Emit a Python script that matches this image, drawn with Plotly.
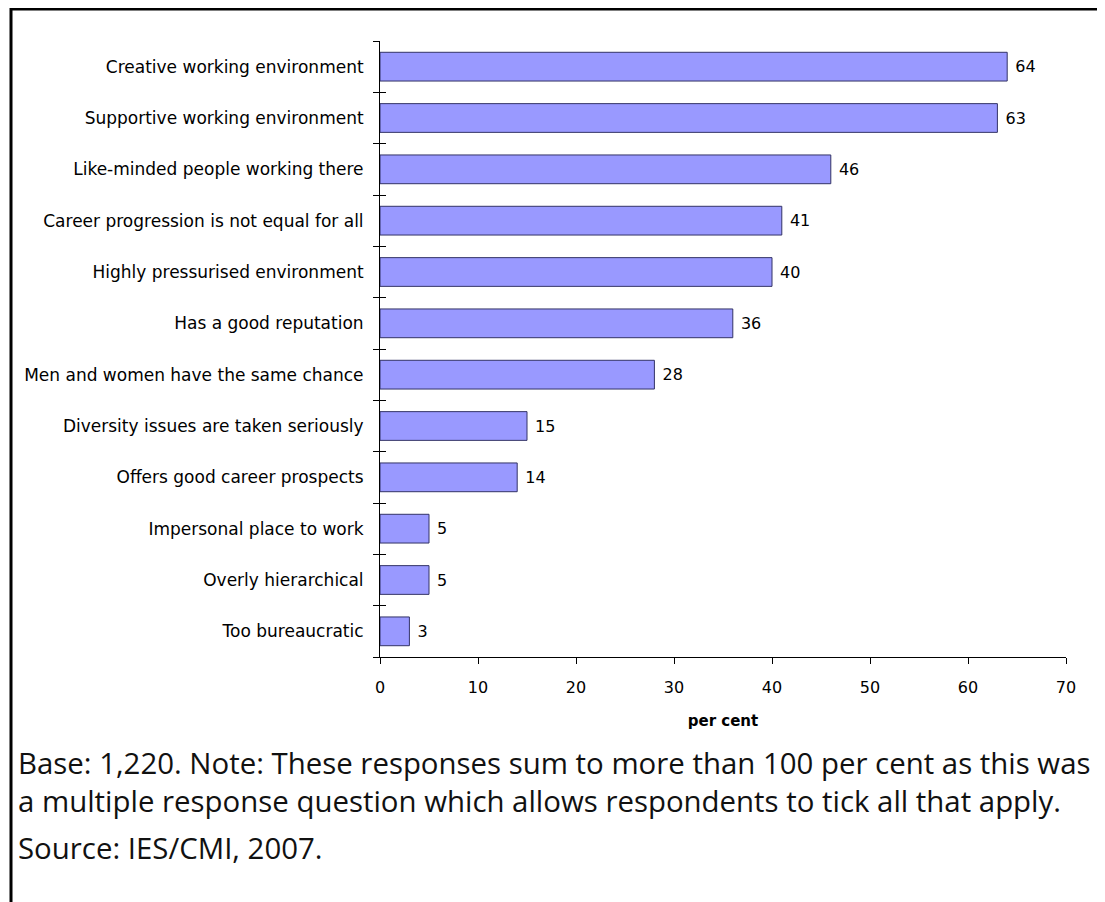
import plotly.graph_objects as go

categories = [
    "Creative working environment",
    "Supportive working environment",
    "Like-minded people working there",
    "Career progression is not equal for all",
    "Highly pressurised environment",
    "Has a good reputation",
    "Men and women have the same chance",
    "Diversity issues are taken seriously",
    "Offers good career prospects",
    "Impersonal place to work",
    "Overly hierarchical",
    "Too bureaucratic",
]
values = [64, 63, 46, 41, 40, 36, 28, 15, 14, 5, 5, 3]
x_ticks = [0, 10, 20, 30, 40, 50, 60, 70]
note_lines = [
    "Base: 1,220. Note: These responses sum to more than 100 per cent as this was",
    "a multiple response question which allows respondents to tick all that apply.",
]
source_text = "Source: IES/CMI, 2007."

# page body has an 8px margin, so figure is offset by 8px
W, H = 1097, 894
L, R, T, B = 372, 1058, 33, 649
PW, PH = R - L, B - T


def px_x(x):
    return (x - L) / PW


def px_y(y):
    return (B - y) / PH


LABEL_FONT = "DejaVu Sans"
FOOT_FONT = dict(family="Open Sans", size=29.4, color="#111")

fig = go.Figure()
fig.add_trace(go.Bar(
    x=values, y=categories, orientation="h",
    marker=dict(color="#9999FF", line=dict(color="#333366", width=1)),
    width=0.56,
    text=[" " + str(v) for v in values], textposition="outside",
    textfont=dict(family=LABEL_FONT, size=16, color="#000"),
    cliponaxis=False, hoverinfo="skip",
))
# invisible trace on an overlaid axis to draw the inner half of the category ticks
fig.add_trace(go.Scatter(
    x=values, y=categories, mode="none", yaxis="y2", showlegend=False, hoverinfo="skip",
))

annotations = [
    dict(xref="paper", yref="paper", x=px_x(8), y=px_y(774),
         xanchor="left", yanchor="middle", showarrow=False, align="left",
         text="<br>".join(note_lines), font=FOOT_FONT),
    dict(xref="paper", yref="paper", x=px_x(8), y=px_y(840),
         xanchor="left", yanchor="middle", showarrow=False, align="left",
         text=source_text, font=FOOT_FONT),
]

fig.update_layout(
    width=W, height=H,
    margin=dict(l=L, r=W - R, t=T, b=H - B, pad=0),
    paper_bgcolor="white", plot_bgcolor="white",
    showlegend=False,
    font=dict(family=LABEL_FONT, size=16, color="#000"),
    xaxis=dict(
        range=[0, 70], tickvals=x_ticks, ticks="outside", ticklen=6,
        tickcolor="#000", showline=True, linecolor="#000", linewidth=1,
        showgrid=False, zeroline=False,
        tickfont=dict(family=LABEL_FONT, size=16), ticklabelstandoff=10,
        title=dict(text="<b>per cent</b>", font=dict(family=LABEL_FONT, size=15), standoff=19),
    ),
    yaxis=dict(
        categoryorder="array", categoryarray=categories[::-1],
        autorange=False, range=[-0.5, len(categories) - 0.5],
        tickson="boundaries", ticks="outside", ticklen=6, tickcolor="#000",
        showline=True, linecolor="#000", linewidth=1, showgrid=False,
        tickfont=dict(family=LABEL_FONT, size=17), ticklabelstandoff=12,
    ),
    yaxis2=dict(
        overlaying="y", side="left",
        categoryorder="array", categoryarray=categories[::-1],
        autorange=False, range=[-0.5, len(categories) - 0.5],
        tickson="boundaries", ticks="inside", ticklen=6, tickcolor="#000",
        showticklabels=False, showline=False, showgrid=False,
    ),
    shapes=[
        dict(type="line", xref="paper", yref="paper",
             x0=px_x(3), x1=px_x(W), y0=px_y(1), y1=px_y(1),
             line=dict(color="#000", width=3)),
        dict(type="line", xref="paper", yref="paper",
             x0=px_x(3), x1=px_x(3), y0=px_y(0), y1=px_y(H),
             line=dict(color="#000", width=3)),
    ],
    annotations=annotations,
)

fig.write_html("out.html")
